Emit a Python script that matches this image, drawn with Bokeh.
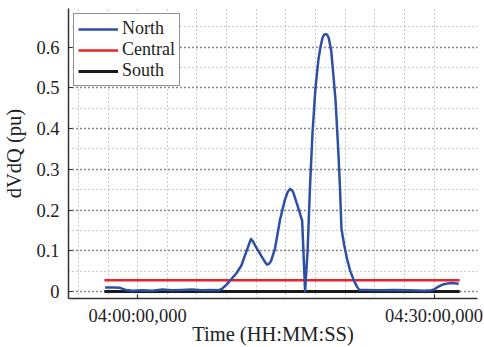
from bokeh.plotting import figure
from bokeh.models import Range1d, FixedTicker, Legend, LegendItem
from bokeh.embed import file_html
from bokeh.resources import INLINE

# Time in minutes after 04:00:00
north_t = [-3.3, -2.5, -1.8, -1.2, -0.5, 0.5, 1.5, 2.5, 3.5, 4.5, 5.5, 6.5, 7.5,
           8.2, 8.6, 9.0, 9.4, 10.0, 10.5, 11.0, 11.3, 11.47, 11.7, 11.9, 12.5,
           12.9, 13.1, 13.3, 13.5, 13.9, 14.4, 14.9, 15.2, 15.43, 15.65, 15.8,
           16.2, 16.65, 16.95, 17.2, 17.45, 17.7, 18.0, 18.3, 18.5, 18.7, 18.85,
           19.03, 19.2, 19.35, 19.6, 20.03, 20.3, 20.47, 20.63, 20.9, 21.2, 21.5,
           21.87, 22.2, 22.43, 23.0, 24.5, 26.0, 27.5, 29.0, 29.7, 30.0, 30.3,
           30.7, 31.0, 31.4, 31.8, 32.5]
north_v = [0.010, 0.010, 0.009, 0.004, 0.002, 0.003, 0.002, 0.005, 0.003, 0.004,
           0.005, 0.003, 0.004,
           0.003, 0.008, 0.017, 0.028, 0.045, 0.064, 0.098, 0.118, 0.129, 0.122,
           0.113, 0.088, 0.072, 0.066, 0.068, 0.075, 0.105, 0.175, 0.225, 0.245,
           0.252, 0.248, 0.240, 0.210, 0.174, 0.0, 0.10, 0.26, 0.39, 0.50, 0.57,
           0.60, 0.622, 0.630, 0.632, 0.630, 0.622, 0.590, 0.47, 0.35, 0.26,
           0.154, 0.115, 0.08, 0.052, 0.028, 0.012, 0.004, 0.004, 0.003, 0.004,
           0.003, 0.002, 0.003, 0.005, 0.010, 0.015, 0.018, 0.020, 0.021, 0.019]

central_t = [-3.37, 32.6]
central_v = [0.028, 0.028]

south_t = [-3.37, 32.6]
south_v = [0.0, 0.0]

x_ticks = [0, 30]
x_tick_labels = ["04:00:00,000", "04:30:00,000"]
x_grid_ticks = [-6, -3, 0, 3, 6, 9, 12, 15, 18, 21, 24, 27, 30]

y_ticks = [0.0, 0.1, 0.2, 0.3, 0.4, 0.5, 0.6]
y_tick_labels = ["0", "0.1", "0.2", "0.3", "0.4", "0.5", "0.6"]
y_minor = [0.05, 0.15, 0.25, 0.35, 0.45, 0.55, 0.65]

FONT = "Liberation Serif"

p = figure(width=484, height=347,
           x_range=Range1d(-7.0, 34.4), y_range=Range1d(-0.0171, 0.695),
           output_backend="svg", toolbar_location=None,
           min_border_left=63, min_border_right=7,
           min_border_top=8, min_border_bottom=47)
p.outline_line_color = None
p.background_fill_color = "white"
p.border_fill_color = "white"

# axes
p.xaxis.ticker = FixedTicker(ticks=x_ticks)
p.xaxis.major_label_overrides = {t: s for t, s in zip(x_ticks, x_tick_labels)}
p.yaxis.ticker = FixedTicker(ticks=y_ticks, minor_ticks=y_minor)
p.yaxis.major_label_overrides = {t: s for t, s in zip(y_ticks, y_tick_labels)}

for ax in (p.xaxis[0], p.yaxis[0]):
    ax.axis_line_color = "#333333"
    ax.axis_line_width = 1.5
    ax.major_tick_line_color = "#333333"
    ax.major_tick_line_width = 1.2
    ax.major_tick_in = 4
    ax.major_tick_out = 0
    ax.minor_tick_line_color = None
    ax.major_label_text_font = FONT
    ax.major_label_text_font_size = "18.5px"
    ax.major_label_text_color = "#222222"
    ax.axis_label_text_font = FONT
    ax.axis_label_text_font_size = "20.5px"
    ax.axis_label_text_font_style = "normal"
    ax.axis_label_text_color = "#222222"

p.xaxis.axis_label = "Time (HH:MM:SS)"
p.yaxis.axis_label = "dVdQ (pu)"
p.xaxis.major_label_standoff = 7
p.xaxis.axis_label_standoff = -6
p.yaxis.major_label_standoff = 5
p.yaxis.axis_label_standoff = 8

# grids
p.xgrid.ticker = FixedTicker(ticks=x_grid_ticks)
p.xgrid.grid_line_color = "#999999"
p.xgrid.grid_line_dash = "1 3"
p.xgrid.grid_line_width = 1

p.ygrid.grid_line_color = "#111111"
p.ygrid.grid_line_dash = "1 3"
p.ygrid.grid_line_width = 1.5
p.ygrid.minor_grid_line_color = "#999999"
p.ygrid.minor_grid_line_dash = "1 3"
p.ygrid.minor_grid_line_width = 1

# series
r_south = p.line(south_t, south_v, line_color="#1a1a1a", line_width=3)
r_central = p.line(central_t, central_v, line_color="#e8232a", line_width=2.5)
r_north = p.line(north_t, north_v, line_color="#2f4fa3", line_width=2.5,
                 line_join="round")

legend = Legend(items=[LegendItem(label="North", renderers=[r_north]),
                       LegendItem(label="Central", renderers=[r_central]),
                       LegendItem(label="South", renderers=[r_south])],
                location="top_left")
legend.margin = 5
legend.padding = 4
legend.spacing = 0
legend.glyph_width = 40
legend.glyph_height = 18
legend.label_height = 18
legend.label_standoff = 4
legend.label_text_font = FONT
legend.label_text_font_size = "18px"
legend.label_text_color = "#222222"
legend.border_line_color = "#222222"
legend.border_line_width = 1.5
legend.background_fill_alpha = 1.0
p.add_layout(legend)

open("out.html", "w").write(file_html(p, INLINE))
